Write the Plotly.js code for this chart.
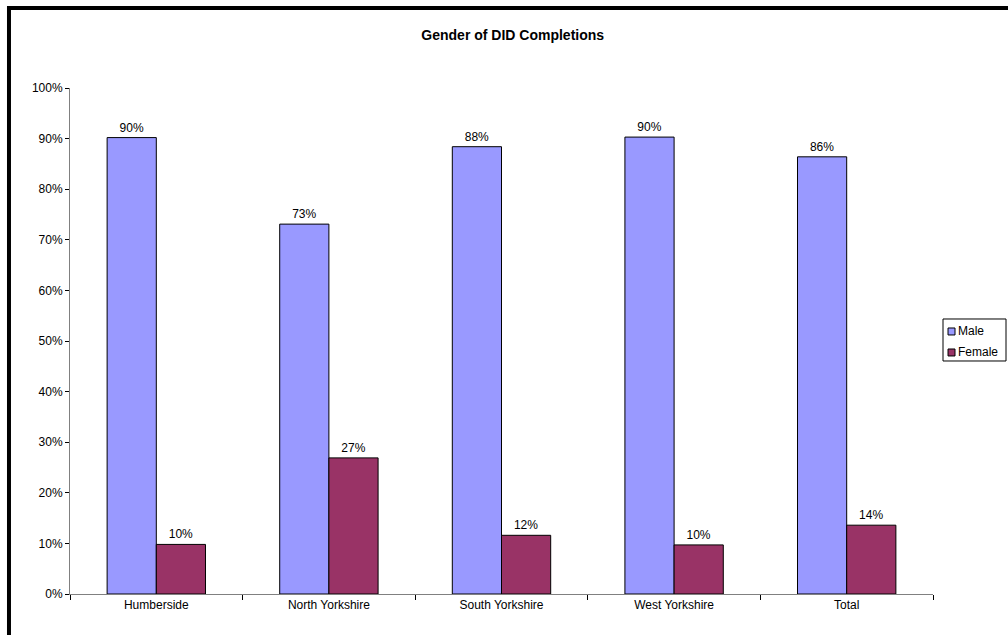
<!DOCTYPE html>
<html>
<head>
<meta charset="utf-8">
<script src="https://cdn.plot.ly/plotly-3.0.1.min.js"></script>
<style>html,body{margin:0;padding:0;background:#fff;}#chart{width:1008px;height:635px;}</style>
</head>
<body>
<div id="chart"></div>
<script>
var categories = ["Humberside", "North Yorkshire", "South Yorkshire", "West Yorkshire", "Total"];
var maleValues = [90.2, 73.1, 88.4, 90.3, 86.4];
var femaleValues = [9.8, 26.9, 11.6, 9.7, 13.6];
var seriesNames = ["Male", "Female"];
var seriesColors = ["#9999FF", "#993366"];
var yTickVals = [0, 10, 20, 30, 40, 50, 60, 70, 80, 90, 100];
var yTickText = ["0%", "10%", "20%", "30%", "40%", "50%", "60%", "70%", "80%", "90%", "100%"];

var fontFam = "Liberation Sans, Arial, sans-serif";

var traces = [
  {
    type: "bar", name: seriesNames[0], x: categories, y: maleValues,
    marker: {color: seriesColors[0], line: {color: "#000000", width: 1}},
    texttemplate: "%{y:.0f}%", textposition: "outside",
    textfont: {family: fontFam, size: 12, color: "#000"},
    cliponaxis: false, hoverinfo: "x+y", showlegend: false
  },
  {
    type: "bar", name: seriesNames[1], x: categories, y: femaleValues,
    marker: {color: seriesColors[1], line: {color: "#000000", width: 1}},
    texttemplate: "%{y:.0f}%", textposition: "outside",
    textfont: {family: fontFam, size: 12, color: "#000"},
    cliponaxis: false, hoverinfo: "x+y", showlegend: false
  }
];

// compact legend drawn with shapes + annotations (paper coordinates)
var legShapes = [
  {type: "rect", xref: "paper", yref: "paper", x0: 1.0116, x1: 1.0846, y0: 0.4605, y1: 0.5435,
   line: {color: "#000", width: 1}, fillcolor: "#fff"}
];
var legRows = [0.5188, 0.4773];
var legAnn = [];
for (var i = 0; i < seriesNames.length; i++) {
  legShapes.push({type: "rect", xref: "paper", yref: "paper",
    x0: 1.0174, x1: 1.0255, y0: legRows[i] - 0.0069, y1: legRows[i] + 0.0069,
    line: {color: "#000", width: 1}, fillcolor: seriesColors[i]});
  legAnn.push({xref: "paper", yref: "paper", x: 1.0272, y: legRows[i], xanchor: "left", yanchor: "middle",
    text: seriesNames[i], showarrow: false, font: {family: fontFam, size: 12, color: "#000"}});
}

var layout = {
  width: 1008, height: 635,
  margin: {l: 70, r: 75, t: 88, b: 41, pad: 0},
  paper_bgcolor: "#ffffff", plot_bgcolor: "#ffffff",
  font: {family: fontFam, size: 12, color: "#000"},
  title: {text: "<b>Gender of DID Completions</b>", font: {family: fontFam, size: 14, color: "#000"},
          x: 0.513, xref: "paper", xanchor: "center", y: 0.945, yanchor: "middle"},
  barmode: "group", bargap: 0.43, bargroupgap: 0,
  xaxis: {
    type: "category", showgrid: false, showline: true, linecolor: "#808080", linewidth: 1,
    ticks: "outside", tickson: "boundaries", ticklen: 5, tickcolor: "#000",
    tickfont: {family: fontFam, size: 12, color: "#000"}, zeroline: false, fixedrange: true
  },
  yaxis: {
    range: [0, 100], tickmode: "array", tickvals: yTickVals, ticktext: yTickText,
    showgrid: false, showline: true, linecolor: "#808080", linewidth: 1,
    ticks: "outside", ticklen: 4, tickcolor: "#000",
    tickfont: {family: fontFam, size: 12, color: "#000"}, zeroline: false, fixedrange: true
  },
  showlegend: false,
  annotations: legAnn,
  shapes: [
    {type: "line", xref: "paper", yref: "paper", x0: -0.0707, x1: -0.0707, y0: -0.2, y1: 1.162,
     line: {color: "#000", width: 4}},
    {type: "line", xref: "paper", yref: "paper", x0: -0.0707, x1: 1.2, y0: 1.158, y1: 1.158,
     line: {color: "#000", width: 4}}
  ].concat(legShapes)
};

Plotly.newPlot("chart", traces, layout, {displayModeBar: false, staticPlot: true});
</script>
</body>
</html>
